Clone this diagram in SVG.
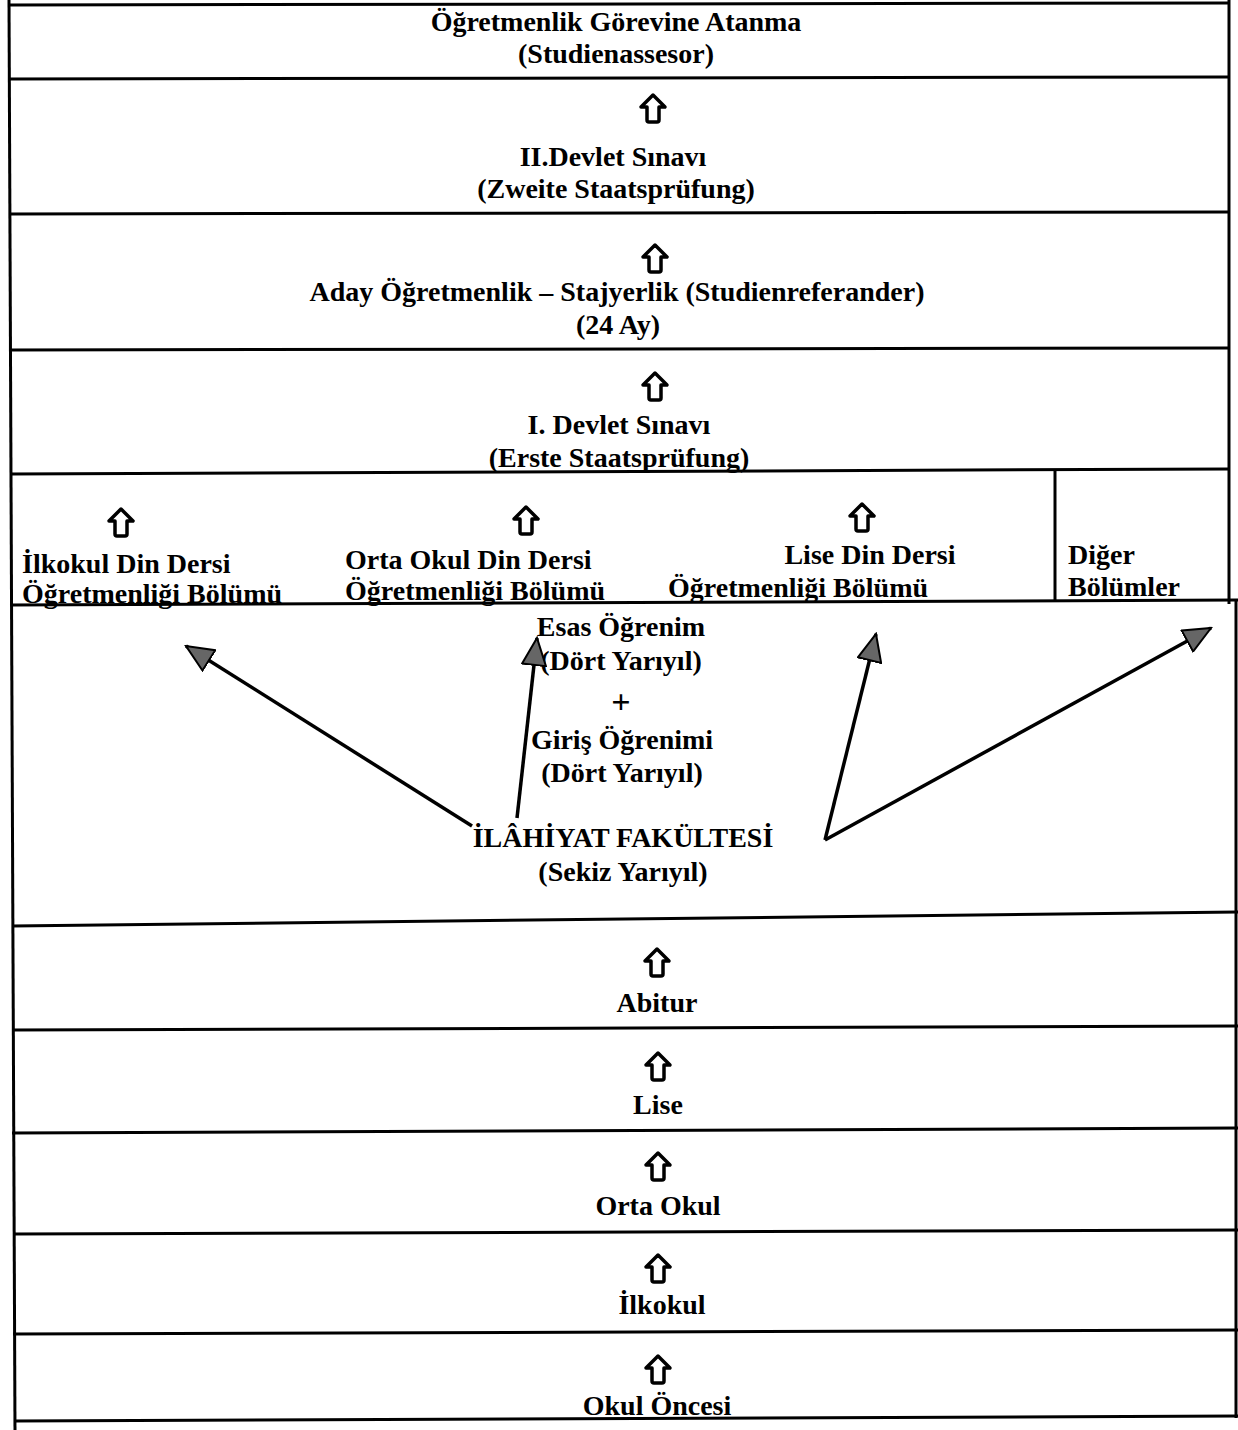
<svg xmlns="http://www.w3.org/2000/svg" width="1238" height="1430" viewBox="0 0 1238 1430">
<style>
.t{font-family:"Liberation Serif","Times New Roman",serif;font-weight:bold;font-size:28px;fill:#000}
.c{text-anchor:middle}
.ln{stroke:#000;stroke-width:3;fill:none}
.ar{stroke:#000;stroke-width:3.5;fill:none}
</style>
<defs>
<marker id="ah2" viewBox="0 0 30 26" refX="28" refY="13" markerWidth="30" markerHeight="26" markerUnits="userSpaceOnUse" orient="auto">
<path d="M1,1 L28,13 L1,25 Z" fill="#666" stroke="#000" stroke-width="2" stroke-linejoin="miter"/>
</marker>
<path id="up" d="M0,-13 L12,-1 L6,-1 L6,12 Q6,14 4,14 L-4,14 Q-6,14 -6,12 L-6,-1 L-12,-1 Z" fill="#fff" stroke="#000" stroke-width="3.5" stroke-linejoin="round"/>
</defs>

<g id="frame">
<line class="ln" x1="9" y1="0" x2="15" y2="1430"/>
<line class="ln" x1="1229" y1="0" x2="1229" y2="604"/>
<line class="ln" x1="1236" y1="600" x2="1236" y2="1418"/>
<line class="ln" x1="9" y1="5" x2="1229" y2="3"/>
<line class="ln" x1="9" y1="79" x2="1229" y2="77"/>
<line class="ln" x1="9" y1="214" x2="1229" y2="212"/>
<line class="ln" x1="9" y1="350" x2="1229" y2="348"/>
<line class="ln" x1="10" y1="474" x2="1229" y2="469"/>
<line class="ln" x1="1055" y1="470" x2="1055" y2="602"/>
<line class="ln" x1="10" y1="605" x2="1238" y2="600"/>
<line class="ln" x1="12" y1="926" x2="1238" y2="912"/>
<line class="ln" x1="12" y1="1030" x2="1238" y2="1026"/>
<line class="ln" x1="12" y1="1133" x2="1238" y2="1128"/>
<line class="ln" x1="13" y1="1234" x2="1238" y2="1230"/>
<line class="ln" x1="13" y1="1334" x2="1238" y2="1330"/>
<line class="ln" x1="14" y1="1421" x2="1238" y2="1416"/>
</g>

<g id="n1"><text class="t c" x="616" y="31">Öğretmenlik Görevine Atanma</text><text class="t c" x="616" y="63">(Studienassesor)</text></g>
<g id="n2"><use href="#up" x="653" y="108"/><text class="t c" x="613" y="166">II.Devlet Sınavı</text><text class="t c" x="616" y="198">(Zweite Staatsprüfung)</text></g>
<g id="n3"><use href="#up" x="655" y="258"/><text class="t c" x="617" y="301">Aday Öğretmenlik – Stajyerlik (Studienreferander)</text><text class="t c" x="618" y="334">(24 Ay)</text></g>
<g id="n4"><use href="#up" x="655" y="386"/><text class="t c" x="619" y="434">I. Devlet Sınavı</text><text class="t c" x="619" y="467">(Erste Staatsprüfung)</text></g>
<g id="n5a"><use href="#up" x="121" y="522"/><text class="t" x="22" y="573">İlkokul Din Dersi</text><text class="t" x="22" y="603">Öğretmenliği Bölümü</text></g>
<g id="n5b"><use href="#up" x="526" y="520"/><text class="t" x="345" y="569">Orta Okul Din Dersi</text><text class="t" x="345" y="600">Öğretmenliği Bölümü</text></g>
<g id="n5c"><use href="#up" x="862" y="517"/><text class="t c" x="870" y="564">Lise Din Dersi</text><text class="t" x="668" y="597">Öğretmenliği Bölümü</text></g>
<g id="n5d"><text class="t" x="1068" y="564">Diğer</text><text class="t" x="1068" y="596">Bölümler</text></g>
<g id="n6"><text class="t c" x="621" y="636">Esas Öğrenim</text><text class="t c" x="621" y="670">(Dört Yarıyıl)</text><text class="t c" x="621" y="713" style="font-size:34px">+</text><text class="t c" x="622" y="749">Giriş Öğrenimi</text><text class="t c" x="622" y="782">(Dört Yarıyıl)</text></g>
<g id="n7"><text class="t c" x="623" y="847">İLÂHİYAT FAKÜLTESİ</text><text class="t c" x="623" y="881">(Sekiz Yarıyıl)</text></g>
<g id="n8"><use href="#up" x="657" y="962"/><text class="t c" x="657" y="1012">Abitur</text></g>
<g id="n9"><use href="#up" x="658" y="1066"/><text class="t c" x="658" y="1114">Lise</text></g>
<g id="n10"><use href="#up" x="658" y="1166"/><text class="t c" x="658" y="1215">Orta Okul</text></g>
<g id="n11"><use href="#up" x="658" y="1268"/><text class="t c" x="662" y="1314">İlkokul</text></g>
<g id="n12"><use href="#up" x="658" y="1369"/><text class="t c" x="657" y="1415">Okul Öncesi</text></g>

<g id="connectors">
<line class="ar" x1="472" y1="826" x2="186" y2="646" marker-end="url(#ah2)"/>
<line class="ar" x1="517" y1="818" x2="537" y2="638" marker-end="url(#ah2)"/>
<line class="ar" x1="825" y1="840" x2="876" y2="634" marker-end="url(#ah2)"/>
<line class="ar" x1="825" y1="840" x2="1211" y2="628" stroke-width="5" marker-end="url(#ah2)"/>
</g>
</svg>
